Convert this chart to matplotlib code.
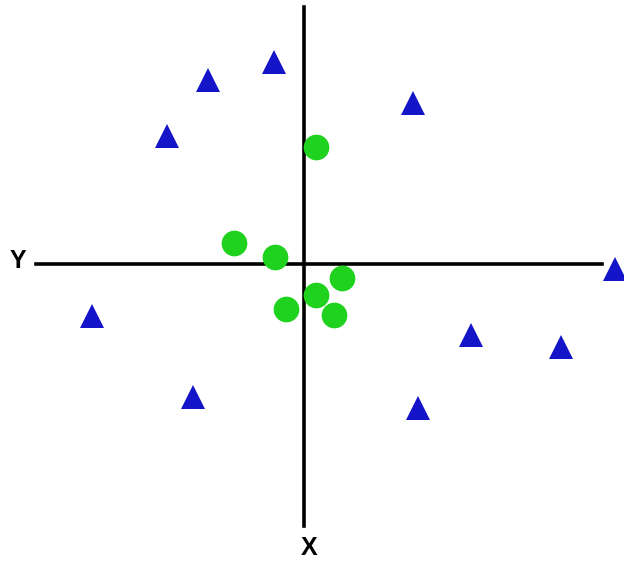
import matplotlib
matplotlib.use("Agg")
import matplotlib.pyplot as plt

# class A (blue triangles) and class B (green circles), origin at the axes crossing
tri_x = [-9.6, -3.0, -13.7, 10.9, 31.1, -21.2, 16.7, 25.7, -11.1, 11.4]
tri_y = [18.4, 20.2, 12.8, 16.1, -0.45, -5.2, -7.1, -8.3, -13.3, -14.4]

circ_x = [1.2, -7.0, -2.9, 3.8, 1.2, -1.8, 3.0]
circ_y = [11.7, 2.1, 0.7, -1.4, -3.1, -4.5, -5.1]

fig = plt.figure(figsize=(6.24, 5.65), dpi=100)
ax = fig.add_axes([0, 0, 1, 1])
ax.set_xlim(-30.4, 32.0)
ax.set_ylim(-30.1, 26.4)
ax.axis("off")

# the two axis lines
ax.plot([-26.8, 29.8], [0, 0], color="black", linewidth=2.6, zorder=1)
ax.plot([0, 0], [-26.2, 25.7], color="black", linewidth=2.6, zorder=1)

ax.text(-28.6, 0.3, "Y", fontsize=18, fontweight="bold", family="Liberation Sans",
        ha="center", va="center")
ax.text(0.5, -28.4, "X", fontsize=18, fontweight="bold", family="Liberation Sans",
        ha="center", va="center")

ax.plot(tri_x, tri_y, linestyle="none", marker="^", markersize=17.5,
        color="#1414c8", markeredgewidth=0, zorder=3)
ax.plot(circ_x, circ_y, linestyle="none", marker="o", markersize=18.5,
        color="#1ed21e", markeredgewidth=0, zorder=3)

fig.savefig("out.png", dpi=100)
plt.close(fig)
